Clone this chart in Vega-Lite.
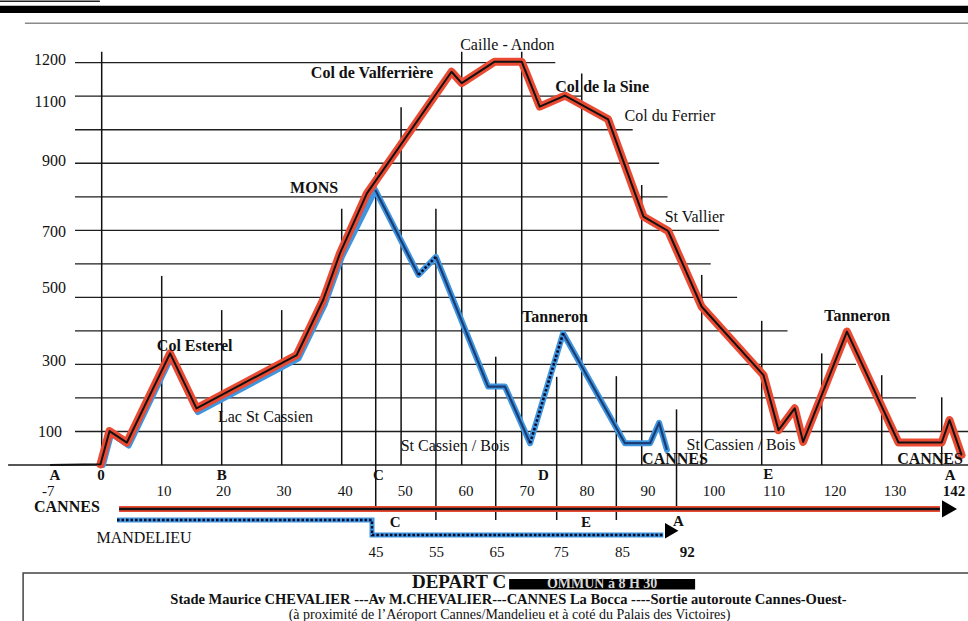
{
  "$schema": "https://vega.github.io/schema/vega-lite/v6.json",
  "width": 968,
  "height": 621,
  "padding": 0,
  "autosize": {"type": "none"},
  "background": "white",
  "config": {"view": {"stroke": null}, "font": "Liberation Serif"},
  "datasets": {
    "cannes": [
      {"km": -8.6, "alt": 0}, {"km": -0.2, "alt": 2}, {"km": 1.3, "alt": 101}, {"km": 4.2, "alt": 67},
      {"km": 11.4, "alt": 333}, {"km": 15.8, "alt": 169}, {"km": 32.5, "alt": 328}, {"km": 36.9, "alt": 492},
      {"km": 39.7, "alt": 631}, {"km": 44.2, "alt": 810}, {"km": 58.3, "alt": 1173}, {"km": 60.0, "alt": 1139},
      {"km": 65.5, "alt": 1203}, {"km": 70.0, "alt": 1203}, {"km": 73.0, "alt": 1069}, {"km": 77.2, "alt": 1102},
      {"km": 84.4, "alt": 1031}, {"km": 90.3, "alt": 741}, {"km": 94.4, "alt": 698}, {"km": 100.0, "alt": 472},
      {"km": 110.3, "alt": 268}, {"km": 112.8, "alt": 104}, {"km": 115.5, "alt": 169}, {"km": 116.9, "alt": 69},
      {"km": 124.2, "alt": 398}, {"km": 132.8, "alt": 67}, {"km": 140.0, "alt": 67}, {"km": 141.3, "alt": 134},
      {"km": 143.3, "alt": 30}
    ],
    "mandelieu": [
      {"km": 0.2, "alt": 0}, {"km": 1.6, "alt": 94}, {"km": 4.5, "alt": 58}, {"km": 11.6, "alt": 322},
      {"km": 16.0, "alt": 158}, {"km": 32.8, "alt": 318}, {"km": 37.2, "alt": 480}, {"km": 40.0, "alt": 620},
      {"km": 45.6, "alt": 820}, {"km": 52.8, "alt": 567}, {"km": 55.7, "alt": 621}, {"km": 64.4, "alt": 234},
      {"km": 67.2, "alt": 234}, {"km": 71.4, "alt": 65}, {"km": 76.9, "alt": 393}, {"km": 87.2, "alt": 65},
      {"km": 91.4, "alt": 65}, {"km": 92.9, "alt": 126}, {"km": 94.2, "alt": 45}
    ],
    "mandCore": [
      {"seg": "s1", "km": 45.6, "alt": 820}, {"seg": "s1", "km": 52.8, "alt": 567},
      {"seg": "s2", "km": 55.7, "alt": 621}, {"seg": "s2", "km": 64.4, "alt": 234}, {"seg": "s2", "km": 67.2, "alt": 234}, {"seg": "s2", "km": 71.4, "alt": 65},
      {"seg": "s3", "km": 76.9, "alt": 393}, {"seg": "s3", "km": 87.2, "alt": 65}, {"seg": "s3", "km": 91.4, "alt": 65}, {"seg": "s3", "km": 92.9, "alt": 126}, {"seg": "s3", "km": 94.2, "alt": 45}
    ],
    "mandDot": [
      {"seg": "d1", "km": 52.8, "alt": 567}, {"seg": "d1", "km": 55.7, "alt": 621},
      {"seg": "d2", "km": 71.4, "alt": 65}, {"seg": "d2", "km": 76.9, "alt": 393}
    ],
    "hlines": [
      {"alt": 1200, "km": -4.45, "km2": 75.6}, {"alt": 1100, "km": -4.45, "km2": 80.0},
      {"alt": 1000, "km": -4.45, "km2": 88.5}, {"alt": 900, "km": -4.45, "km2": 92.9},
      {"alt": 800, "km": -4.45, "km2": 94.3}, {"alt": 700, "km": -4.45, "km2": 102.9},
      {"alt": 600, "km": -4.45, "km2": 101.5}, {"alt": 500, "km": -4.45, "km2": 105.9},
      {"alt": 400, "km": -4.45, "km2": 114.3}, {"alt": 300, "km": -4.45, "km2": 125.7},
      {"alt": 200, "km": -4.45, "km2": 135.7}, {"alt": 100, "km": -4.45, "km2": 145},
      {"alt": 0, "km": -15.6, "km2": 145}
    ],
    "vlines": [
      {"km": 0, "alt": 1233, "alt2": 0}, {"km": 10, "alt": 564, "alt2": 0}, {"km": 20, "alt": 462, "alt2": 0},
      {"km": 30, "alt": 462, "alt2": 0}, {"km": 40, "alt": 764, "alt2": 0}, {"km": 45.67, "alt": 873, "alt2": -124},
      {"km": 49.9, "alt": 1067, "alt2": 0}, {"km": 55.7, "alt": 764, "alt2": -164}, {"km": 60, "alt": 1233, "alt2": 0},
      {"km": 65.67, "alt": 323, "alt2": -164}, {"km": 70, "alt": 1233, "alt2": 0}, {"km": 75.83, "alt": 263, "alt2": -164},
      {"km": 80, "alt": 1168, "alt2": 0}, {"km": 85.77, "alt": 265, "alt2": -164}, {"km": 90, "alt": 835, "alt2": 0},
      {"km": 95.8, "alt": 166, "alt2": -124}, {"km": 100, "alt": 567, "alt2": 0}, {"km": 110, "alt": 430, "alt2": 0},
      {"km": 120, "alt": 333, "alt2": 0}, {"km": 130, "alt": 268, "alt2": 0}, {"km": 140, "alt": 202, "alt2": 0}
    ],
    "cannesRoute": [{"km": 2.9, "alt": -131}, {"km": 139.7, "alt": -131}],
    "cannesArrow": [{"km": 141.3, "alt": -131}],
    "mandRoute": [
      {"i": 1, "km": 2.55, "alt": -164}, {"i": 2, "km": 45.05, "alt": -164},
      {"i": 3, "km": 45.05, "alt": -209}, {"i": 4, "km": 93.6, "alt": -209}
    ],
    "mandArrow": [{"km": 95.0, "alt": -196}],
    "yLabels": [
      {"label": "1200", "km": -5.95, "alt": 1208}, {"label": "1100", "km": -5.95, "alt": 1083},
      {"label": "900", "km": -5.95, "alt": 906}, {"label": "700", "km": -5.95, "alt": 695},
      {"label": "500", "km": -5.95, "alt": 527}, {"label": "300", "km": -5.95, "alt": 310},
      {"label": "100", "km": -6.6, "alt": 98}
    ],
    "letters": [
      {"label": "A", "km": -7.8, "alt": -30}, {"label": "0", "km": -0.1, "alt": -30},
      {"label": "B", "km": 20.0, "alt": -30}, {"label": "C", "km": 46.1, "alt": -30},
      {"label": "D", "km": 73.6, "alt": -30}, {"label": "E", "km": 111.1, "alt": -28},
      {"label": "A", "km": 141.4, "alt": -30}, {"label": "C", "km": 48.9, "alt": -169},
      {"label": "E", "km": 80.7, "alt": -169}, {"label": "A", "km": 96.1, "alt": -166},
      {"label": "142", "km": 142.05, "alt": -77}, {"label": "92", "km": 97.6, "alt": -260}
    ],
    "xNums": [
      {"label": "-7", "km": -8.9, "alt": -77}, {"label": "10", "km": 10.4, "alt": -77},
      {"label": "20", "km": 20.3, "alt": -77}, {"label": "30", "km": 30.4, "alt": -77},
      {"label": "40", "km": 40.6, "alt": -77}, {"label": "50", "km": 50.6, "alt": -77},
      {"label": "60", "km": 60.7, "alt": -77}, {"label": "70", "km": 70.9, "alt": -77},
      {"label": "80", "km": 80.9, "alt": -77}, {"label": "90", "km": 91.05, "alt": -77},
      {"label": "100", "km": 102.05, "alt": -77}, {"label": "110", "km": 112.05, "alt": -77},
      {"label": "120", "km": 122.2, "alt": -77}, {"label": "130", "km": 132.2, "alt": -77},
      {"label": "45", "km": 45.7, "alt": -260}, {"label": "55", "km": 55.8, "alt": -260},
      {"label": "65", "km": 65.9, "alt": -260}, {"label": "75", "km": 76.6, "alt": -260},
      {"label": "85", "km": 86.8, "alt": -260}
    ],
    "placesBold": [
      {"label": "Col de Valferrière", "km": 45.05, "alt": 1168}, {"label": "Col de la Sine", "km": 83.4, "alt": 1127},
      {"label": "MONS", "km": 35.4, "alt": 825}, {"label": "Col Esterel", "km": 15.5, "alt": 355},
      {"label": "Tanneron", "km": 75.55, "alt": 442}, {"label": "CANNES", "km": 95.55, "alt": 17},
      {"label": "Tanneron", "km": 125.9, "alt": 444}, {"label": "CANNES", "km": 138.05, "alt": 19},
      {"label": "CANNES", "km": -5.8, "alt": -125}
    ],
    "placesRegular": [
      {"label": "Caille - Andon", "km": 67.6, "alt": 1253}, {"label": "Col du Ferrier", "km": 94.7, "alt": 1041},
      {"label": "St Vallier", "km": 98.8, "alt": 741}, {"label": "Lac St Cassien", "km": 27.3, "alt": 142},
      {"label": "St Cassien / Bois", "km": 58.9, "alt": 57}, {"label": "St Cassien / Bois", "km": 106.55, "alt": 60},
      {"label": "MANDELIEU", "km": 7.05, "alt": -218}
    ],
    "frameRules": [
      {"alt": 1318, "km": -12.8, "km2": 145}
    ],
    "topBar": [{"km": -17, "km2": 145, "alt": 1348, "alt2": 1370}],
    "topBox": [{"alt": 1383, "km": -17, "km2": -0.3}],
    "box": [{"km": -13.1, "km2": 146, "alt": -322, "alt2": -480}],
    "redact": [{"km": 67.9, "km2": 98.9, "alt": -340, "alt2": -371}],
    "departLeft": [{"label": "DEPART C", "km": 67.4, "alt": -349}],
    "departRight": [{"label": "OMMUN à 8 H 30", "km": 83.4, "alt": -356}],
    "line2": [{"label": "Stade Maurice CHEVALIER ---Av M.CHEVALIER---CANNES La Bocca ----Sortie autoroute Cannes-Ouest-", "km": 67.8, "alt": -402}],
    "line3": [{"label": "(à proximité de l’Aéroport Cannes/Mandelieu et à coté du Palais des Victoires)", "km": 67.97, "alt": -446}]
  },
  "encoding": {
    "x": {"field": "km", "type": "quantitative", "scale": {"domain": [-16.95, 144.38], "nice": false, "zero": false}, "axis": null},
    "y": {"field": "alt", "type": "quantitative", "scale": {"domain": [-465.3, 1387], "nice": false, "zero": false}, "axis": null}
  },
  "layer": [
    {"data": {"name": "topBar"}, "mark": {"type": "rect", "color": "#000"}, "encoding": {"x2": {"field": "km2"}, "y2": {"field": "alt2"}}},
    {"data": {"name": "topBox"}, "mark": {"type": "rule", "color": "#222", "strokeWidth": 1.5}, "encoding": {"x2": {"field": "km2"}}},
    {"data": {"name": "frameRules"}, "mark": {"type": "rule", "color": "#8a8a8a", "strokeWidth": 1.5}, "encoding": {"x2": {"field": "km2"}}},
    {"data": {"name": "hlines"}, "mark": {"type": "rule", "color": "#1e1e1e", "strokeWidth": 1.3}, "encoding": {"x2": {"field": "km2"}}},
    {"data": {"name": "vlines"}, "mark": {"type": "rule", "color": "#111", "strokeWidth": 1.5}, "encoding": {"y2": {"field": "alt2"}}},
    {"data": {"name": "mandelieu"}, "mark": {"type": "line", "color": "#3f95de", "strokeWidth": 6, "strokeJoin": "round", "strokeCap": "round"}},
    {"data": {"name": "cannes"}, "transform": [{"filter": "datum.km > -1"}], "mark": {"type": "line", "color": "#ea4a32", "strokeWidth": 8, "strokeJoin": "round", "strokeCap": "round"}},
    {"data": {"name": "cannes"}, "mark": {"type": "line", "color": "#111", "strokeWidth": 2, "strokeJoin": "round"}},
    {"data": {"name": "mandCore"}, "mark": {"type": "line", "color": "#1b3d75", "strokeWidth": 2.2, "strokeJoin": "round"}, "encoding": {"detail": {"field": "seg"}}},
    {"data": {"name": "mandDot"}, "mark": {"type": "line", "color": "#0a0a2a", "strokeWidth": 2.6, "strokeDash": [2.5, 2]}, "encoding": {"detail": {"field": "seg"}}},
    {"data": {"name": "cannesRoute"}, "mark": {"type": "line", "color": "#ea4a32", "strokeWidth": 6}},
    {"data": {"name": "cannesRoute"}, "mark": {"type": "line", "color": "#111", "strokeWidth": 2.5}},
    {"data": {"name": "cannesArrow"}, "mark": {"type": "point", "shape": "triangle-right", "filled": true, "color": "#000", "opacity": 1, "size": 300}},
    {"data": {"name": "mandRoute"}, "mark": {"type": "line", "color": "#3f95de", "strokeWidth": 5}, "encoding": {"order": {"field": "i"}}},
    {"data": {"name": "mandRoute"}, "mark": {"type": "line", "color": "#0a0a2a", "strokeWidth": 2.4, "strokeDash": [2.5, 2]}, "encoding": {"order": {"field": "i"}}},
    {"data": {"name": "mandArrow"}, "mark": {"type": "point", "shape": "triangle-right", "filled": true, "color": "#000", "opacity": 1, "size": 240}},
    {"data": {"name": "box"}, "mark": {"type": "rect", "fill": null, "fillOpacity": 0, "stroke": "#444", "strokeWidth": 1.5}, "encoding": {"x2": {"field": "km2"}, "y2": {"field": "alt2"}}},
    {"data": {"name": "yLabels"}, "mark": {"type": "text", "align": "right", "baseline": "middle", "fontSize": 16, "color": "#111"}, "encoding": {"text": {"field": "label"}}},
    {"data": {"name": "letters"}, "mark": {"type": "text", "align": "center", "baseline": "middle", "fontSize": 15, "fontWeight": "bold", "color": "#111"}, "encoding": {"text": {"field": "label"}}},
    {"data": {"name": "xNums"}, "mark": {"type": "text", "align": "center", "baseline": "middle", "fontSize": 15, "color": "#111"}, "encoding": {"text": {"field": "label"}}},
    {"data": {"name": "placesBold"}, "mark": {"type": "text", "align": "center", "baseline": "middle", "fontSize": 16, "fontWeight": "bold", "color": "#111"}, "encoding": {"text": {"field": "label"}}},
    {"data": {"name": "placesRegular"}, "mark": {"type": "text", "align": "center", "baseline": "middle", "fontSize": 16, "color": "#111"}, "encoding": {"text": {"field": "label"}}},
    {"data": {"name": "departLeft"}, "mark": {"type": "text", "align": "right", "baseline": "middle", "fontSize": 19, "fontWeight": "bold", "color": "#111"}, "encoding": {"text": {"field": "label"}}},
    {"data": {"name": "redact"}, "mark": {"type": "rect", "color": "#000"}, "encoding": {"x2": {"field": "km2"}, "y2": {"field": "alt2"}}},
    {"data": {"name": "departRight"}, "mark": {"type": "text", "align": "center", "baseline": "middle", "fontSize": 14, "fontWeight": "bold", "color": "#d8d8d8"}, "encoding": {"text": {"field": "label"}}},
    {"data": {"name": "line2"}, "mark": {"type": "text", "align": "center", "baseline": "middle", "fontSize": 14.5, "fontWeight": "bold", "color": "#111"}, "encoding": {"text": {"field": "label"}}},
    {"data": {"name": "line3"}, "mark": {"type": "text", "align": "center", "baseline": "middle", "fontSize": 14, "color": "#111"}, "encoding": {"text": {"field": "label"}}}
  ]
}
